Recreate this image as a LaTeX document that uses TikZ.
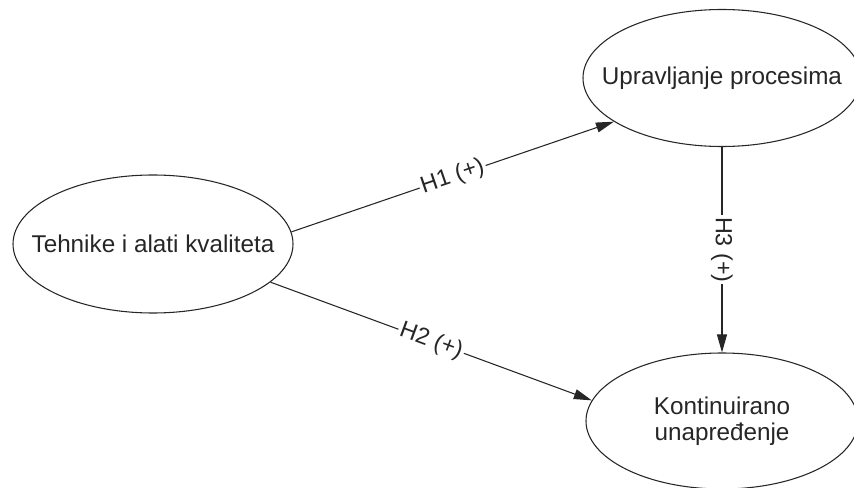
\documentclass[tikz,border=0pt]{standalone}
\usepackage{fontspec}
\setmainfont{Liberation Sans}
\usetikzlibrary{arrows.meta,shapes.geometric}
\begin{document}
\begin{tikzpicture}[x=0.75pt,y=-0.75pt,
  construct/.style={draw=black!85, line width=0.8pt, ellipse, inner sep=0pt},
  caption/.style={align=center, text=black!85, inner sep=0pt,
    font=\fontsize{18.2}{19.5}\selectfont},
  link/.style={draw=black!85, line width=0.8pt,
    -{Triangle[length=13.5pt,width=7.5pt]}},
  hyp/.style={fill=white, inner sep=1.5pt, text=black!85,
    font=\fontsize{17.5}{19}\selectfont}]
\useasboundingbox (0,0) rectangle (854,488);

% constructs: outline ellipses with their names centred inside
\node[construct, minimum width=210pt, minimum height=103.5pt] (T) at (153,244) {};
\node[construct, minimum width=208.5pt, minimum height=102.75pt] (U) at (722,78) {};
\node[construct, minimum width=204pt, minimum height=102pt] (K) at (722,421) {};
\node[caption] (Tt) at (T) {Tehnike i alati kvaliteta};
\node[caption] (Ut) at (U) {Upravljanje procesima};
\node[caption] (Kt) at (K) {Kontinuirano\\unapređenje};

% hypotheses
\draw[link] (T.5) -- node[hyp, sloped] {H1 (+)} (U.202.8);
\draw[link] (T.-18.7) -- node[hyp, sloped] {H2 (+)} (K.171.6);
\draw[link] (U.south) -- node[hyp, rotate=-90] {H3 (+)} (K.north);
\end{tikzpicture}
\end{document}
